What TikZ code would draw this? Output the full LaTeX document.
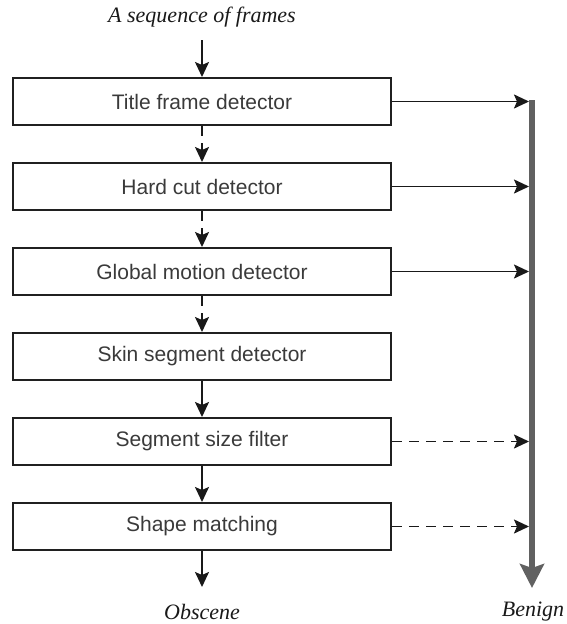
\documentclass[tikz,border=0pt]{standalone}
\usepackage{fontspec}
\setmainfont{Liberation Serif}
\newfontfamily\boxfont{Liberation Sans}
\usetikzlibrary{arrows.meta}
\definecolor{boxline}{HTML}{202020}
\definecolor{boxtext}{HTML}{3A3A3A}
\definecolor{bargray}{HTML}{616161}
\tikzset{
  stagebox/.style={draw=boxline, line width=2pt, minimum width=378pt, minimum height=47pt,
    inner sep=0pt, font=\boxfont\fontsize{21}{25}\selectfont, text=boxtext},
  caption/.style={font=\itshape\fontsize{22}{26}\selectfont, text=black!90, inner sep=0pt},
  flow/.style={line width=1.8pt, draw=black!90, -{Stealth[length=15pt,width=14pt,inset=3pt]}},
  dflow/.style={flow, dash pattern=on 10pt off 7pt},
  bar/.style={line width=6pt, draw=bargray, -{Stealth[length=24pt,width=24pt,inset=4pt]}}
}
\begin{document}
\begin{tikzpicture}[x=1pt,y=-1pt]
\useasboundingbox (0,0) rectangle (566,624);
\node[caption] (seq) at (202,17) {A sequence of frames};
\coordinate (seqarr) at (202,40);
\node[stagebox] (t) at (202,101.5) {Title frame detector};
\node[stagebox] (h) at (202,186.5) {Hard cut detector};
\node[stagebox] (g) at (202,271.5) {Global motion detector};
\node[stagebox] (s) at (202,356.5) {Skin segment detector};
\node[stagebox] (z) at (202,441.5) {Segment size filter};
\node[stagebox] (m) at (202,526.5) {Shape matching};
\coordinate (obarr) at (202,587);
\node[caption] (obs) at (202,612) {Obscene};
\node[caption] (ben) at (533,612) {Benign};
\coordinate (bartop) at (532,100);
\coordinate (barbot) at (532,588);
\coordinate (barleft) at (529,100);

\draw[flow] (seqarr) -- (t.north);
\draw[dflow] (t.south) -- (h.north);
\draw[dflow] (h.south) -- (g.north);
\draw[dflow] (g.south) -- (s.north);
\draw[flow] (s.south) -- (z.north);
\draw[flow] (z.south) -- (m.north);
\draw[flow] (m.south) -- (obarr);

\draw[bar] (bartop) -- (barbot);
\draw[flow] (t.east) -- (t.east -| barleft);
\draw[flow] (h.east) -- (h.east -| barleft);
\draw[flow] (g.east) -- (g.east -| barleft);
\draw[dflow] (z.east) -- (z.east -| barleft);
\draw[dflow] (m.east) -- (m.east -| barleft);
\end{tikzpicture}
\end{document}
